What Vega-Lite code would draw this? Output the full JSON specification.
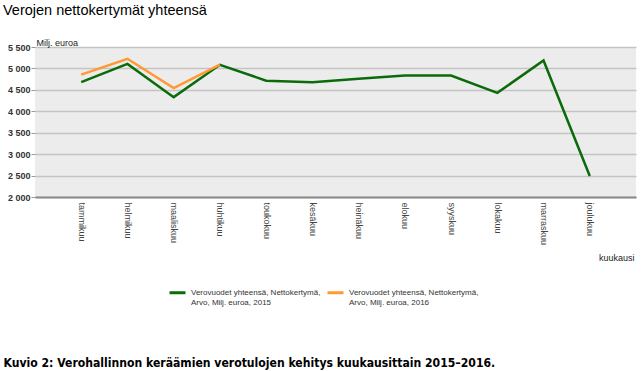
{
  "$schema": "https://vega.github.io/schema/vega-lite/v6.json",
  "width": 601,
  "height": 150,
  "autosize": {"type": "none"},
  "padding": {"left": 35, "top": 47, "right": 5, "bottom": 174},
  "background": "white",
  "title": {
    "text": "Verojen nettokertymät yhteensä",
    "anchor": "start",
    "frame": "group",
    "dx": -32,
    "offset": 20,
    "font": "Liberation Sans",
    "fontSize": 14.5,
    "fontWeight": "normal",
    "color": "#000000"
  },
  "config": {
    "view": {"fill": "#ececec", "stroke": null},
    "font": "Liberation Sans"
  },
  "data": {
    "values": [
      {"kuukausi": "tammikuu", "arvo": 4680, "sarja": "Verovuodet yhteensä, Nettokertymä, Arvo, Milj. euroa, 2015"},
      {"kuukausi": "helmikuu", "arvo": 5105, "sarja": "Verovuodet yhteensä, Nettokertymä, Arvo, Milj. euroa, 2015"},
      {"kuukausi": "maaliskuu", "arvo": 4330, "sarja": "Verovuodet yhteensä, Nettokertymä, Arvo, Milj. euroa, 2015"},
      {"kuukausi": "huhtikuu", "arvo": 5085, "sarja": "Verovuodet yhteensä, Nettokertymä, Arvo, Milj. euroa, 2015"},
      {"kuukausi": "toukokuu", "arvo": 4715, "sarja": "Verovuodet yhteensä, Nettokertymä, Arvo, Milj. euroa, 2015"},
      {"kuukausi": "kesäkuu", "arvo": 4680, "sarja": "Verovuodet yhteensä, Nettokertymä, Arvo, Milj. euroa, 2015"},
      {"kuukausi": "heinäkuu", "arvo": 4760, "sarja": "Verovuodet yhteensä, Nettokertymä, Arvo, Milj. euroa, 2015"},
      {"kuukausi": "elokuu", "arvo": 4835, "sarja": "Verovuodet yhteensä, Nettokertymä, Arvo, Milj. euroa, 2015"},
      {"kuukausi": "syyskuu", "arvo": 4835, "sarja": "Verovuodet yhteensä, Nettokertymä, Arvo, Milj. euroa, 2015"},
      {"kuukausi": "lokakuu", "arvo": 4430, "sarja": "Verovuodet yhteensä, Nettokertymä, Arvo, Milj. euroa, 2015"},
      {"kuukausi": "marraskuu", "arvo": 5185, "sarja": "Verovuodet yhteensä, Nettokertymä, Arvo, Milj. euroa, 2015"},
      {"kuukausi": "joulukuu", "arvo": 2490, "sarja": "Verovuodet yhteensä, Nettokertymä, Arvo, Milj. euroa, 2015"},
      {"kuukausi": "tammikuu", "arvo": 4855, "sarja": "Verovuodet yhteensä, Nettokertymä, Arvo, Milj. euroa, 2016"},
      {"kuukausi": "helmikuu", "arvo": 5225, "sarja": "Verovuodet yhteensä, Nettokertymä, Arvo, Milj. euroa, 2016"},
      {"kuukausi": "maaliskuu", "arvo": 4540, "sarja": "Verovuodet yhteensä, Nettokertymä, Arvo, Milj. euroa, 2016"},
      {"kuukausi": "huhtikuu", "arvo": 5090, "sarja": "Verovuodet yhteensä, Nettokertymä, Arvo, Milj. euroa, 2016"}
    ]
  },
  "layer": [
    {
      "mark": {"type": "line", "strokeWidth": 2.5},
      "encoding": {
        "x": {
          "field": "kuukausi",
          "type": "ordinal",
          "sort": null,
          "scale": {"type": "point", "padding": 1},
          "axis": {
            "orient": "bottom",
            "labelAngle": 90,
            "labelAlign": "left",
            "labelBaseline": "middle",
            "labelPadding": 5,
            "labelFontSize": 9,
            "labelColor": "#444444",
            "ticks": false,
            "grid": false,
            "domain": true,
            "domainColor": "#8a8a8a",
            "domainWidth": 2,
            "title": "kuukausi",
            "titleX": 599,
            "titleY": 60,
            "titleAlign": "right",
            "titleBaseline": "middle",
            "titleFontSize": 9,
            "titleFontWeight": "normal",
            "titleColor": "#222222"
          }
        },
        "y": {
          "field": "arvo",
          "type": "quantitative",
          "scale": {"domain": [2000, 5500], "nice": false, "zero": false},
          "axis": {
            "values": [2000, 2500, 3000, 3500, 4000, 4500, 5000, 5500],
            "labelExpr": "replace(format(datum.value, ',d'), ',', ' ')",
            "labelOverlap": false,
            "labelFontSize": 9,
            "labelFontWeight": "bold",
            "labelColor": "#333333",
            "labelPadding": 1,
            "ticks": true,
            "tickSize": 4,
            "tickColor": "#999999",
            "domain": false,
            "grid": true,
            "gridColor": "#c4c4c4",
            "gridWidth": 1.5,
            "title": "Milj. euroa",
            "titleAngle": 0,
            "titleX": 1,
            "titleY": -5,
            "titleAlign": "left",
            "titleBaseline": "middle",
            "titleFontSize": 9,
            "titleFontWeight": "normal",
            "titleColor": "#222222"
          }
        },
        "color": {
          "field": "sarja",
          "type": "nominal",
          "scale": {"range": ["#0b6b0b", "#ff9933"]},
          "legend": {
            "orient": "none",
            "legendX": 133,
            "legendY": 236,
            "direction": "horizontal",
            "columns": 2,
            "title": null,
            "symbolType": "stroke",
            "symbolSize": 256,
            "symbolStrokeWidth": 3,
            "labelFontSize": 8,
            "labelColor": "#333333",
            "labelLimit": 131,
            "labelOffset": 4,
            "columnPadding": 0,
            "labelExpr": "[slice(datum.label, 0, 34), slice(datum.label, 35)]"
          }
        }
      }
    },
    {
      "mark": {"type": "line", "opacity": 0},
      "encoding": {
        "x": {
          "field": "kuukausi",
          "type": "ordinal",
          "sort": null,
          "axis": {
            "orient": "bottom",
            "labels": false,
            "ticks": false,
            "domain": false,
            "grid": false,
            "title": "Kuvio 2: Verohallinnon keräämien verotulojen kehitys kuukausittain 2015–2016.",
            "titleX": -32,
            "titleY": 165,
            "titleAlign": "left",
            "titleAnchor": "start",
            "titleBaseline": "middle",
            "titleFont": "Liberation Sans Narrow, DejaVu Sans Condensed, Liberation Sans",
            "titleFontWeight": "bold",
            "titleFontSize": 12.1,
            "titleColor": "#000000"
          }
        },
        "detail": {"field": "sarja", "type": "nominal"}
      }
    }
  ],
  "resolve": {"axis": {"x": "independent"}}
}
